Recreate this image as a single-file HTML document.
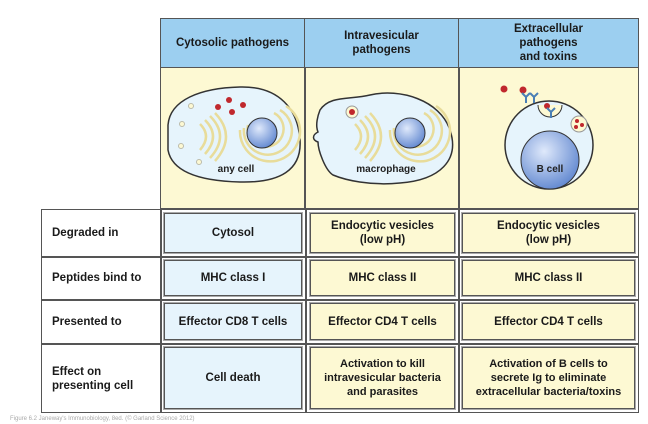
<!DOCTYPE html>
<html><head><meta charset="utf-8"><style>
html,body{margin:0;padding:0;background:#fff;width:648px;height:424px;overflow:hidden;font-family:"Liberation Sans",sans-serif}
.a{position:absolute;box-sizing:border-box}
.t{display:flex;align-items:center;justify-content:center;text-align:center;font-weight:bold;font-size:11.5px;line-height:14px;color:#1a1a1a}
.l{display:flex;align-items:center;font-weight:bold;font-size:11.5px;line-height:14px;color:#1a1a1a;padding-left:10px}
.bx{border:1.5px solid #555;outline:1px solid #aaa}
.b{background:#e6f4fc}.y{background:#fdf9d3}
</style></head><body>
<div class="a" style="left:160px;top:18px;width:479px;height:191px;border:1.5px solid #555;background:#fdf9d3"></div>
<div class="a t" style="left:160px;top:18px;width:145px;height:50px;background:#9ccff0;border:1.5px solid #555">Cytosolic pathogens</div>
<div class="a t" style="left:304px;top:18px;width:155px;height:50px;background:#9ccff0;border:1.5px solid #555">Intravesicular<br>pathogens</div>
<div class="a t" style="left:458px;top:18px;width:181px;height:50px;background:#9ccff0;border:1.5px solid #555">Extracellular<br>pathogens<br>and toxins</div>
<div class="a" style="left:304px;top:67px;width:1.5px;height:142px;background:#555"></div>
<div class="a" style="left:458px;top:67px;width:1.5px;height:142px;background:#555"></div>
<svg class="a" style="left:0;top:0" width="648" height="424">
<defs><radialGradient id="n" cx="0.4" cy="0.35" r="0.7"><stop offset="0" stop-color="#dfe9fb"/><stop offset="1" stop-color="#5f86cf"/></radialGradient></defs>
<path d="M168,125 C170,100 200,88 240,87 C280,86 298,110 300,140 C302,170 280,183 240,182 C200,181 172,172 168,150 Z" fill="#e6f4fc" stroke="#333" stroke-width="1.5"/>
<g fill="none" stroke="#e8dc9a" stroke-width="2.5"><path d="M200,124 q12,12 0,26"/><path d="M205,120 q16,16 0,34"/><path d="M210,116 q20,20 0,42"/><path d="M215,113 q22,23 0,48"/><path d="M248,125 a18,18 0 1,0 26,-12"/><path d="M244,128 a24,24 0 1,0 36,-18"/><path d="M240,130 a30,30 0 1,0 46,-24"/></g>
<circle cx="262" cy="133" r="15" fill="url(#n)" stroke="#333"/>
<g fill="#c0282d"><circle cx="229" cy="100" r="3"/><circle cx="218" cy="107" r="3"/><circle cx="232" cy="112" r="3"/><circle cx="243" cy="105" r="3"/></g>
<g fill="#fdf9d3" stroke="#bba"><circle cx="191" cy="106" r="2.5"/><circle cx="182" cy="124" r="2.5"/><circle cx="181" cy="146" r="2.5"/><circle cx="199" cy="162" r="2.5"/></g>
<text x="236" y="172" font-size="10" font-weight="bold" text-anchor="middle" fill="#222">any cell</text>
<path d="M320,110 C330,95 350,100 370,95 C400,88 440,100 450,130 C460,160 440,180 400,183 C370,186 345,180 333,175 C325,170 318,150 318,142 C312,140 312,135 318,132 C315,125 318,115 320,110 Z" fill="#e6f4fc" stroke="#333" stroke-width="1.5"/>
<g fill="none" stroke="#e8dc9a" stroke-width="2.5"><path d="M355,124 q12,12 0,26"/><path d="M360,120 q16,16 0,34"/><path d="M365,116 q20,20 0,42"/><path d="M370,113 q22,23 0,48"/><path d="M398,125 a18,18 0 1,0 26,-12"/><path d="M394,128 a24,24 0 1,0 36,-18"/><path d="M390,130 a30,30 0 1,0 46,-24"/></g>
<circle cx="410" cy="133" r="15" fill="url(#n)" stroke="#333"/>
<circle cx="352" cy="112" r="6" fill="#fdf9d3" stroke="#999"/><circle cx="352" cy="112" r="3" fill="#c0282d"/>
<text x="386" y="172" font-size="10" font-weight="bold" text-anchor="middle" fill="#222">macrophage</text>
<circle cx="549" cy="145" r="44" fill="#e6f4fc" stroke="#333" stroke-width="1.5"/>
<circle cx="550" cy="160" r="29" fill="url(#n)" stroke="#333"/>
<path d="M538,105 a12,12 0 0,0 24,0" fill="#fdf9d3" stroke="#333"/>
<circle cx="579" cy="124" r="8" fill="#fdf9d3" stroke="#999"/>
<g fill="#c0282d"><circle cx="577" cy="121" r="2"/><circle cx="582" cy="125" r="2"/><circle cx="576" cy="127" r="2"/><circle cx="504" cy="89" r="3.5"/><circle cx="523" cy="90" r="3.5"/><circle cx="547" cy="106" r="3"/></g>
<g stroke="#4a7fb5" stroke-width="2" fill="none"><path d="M526,97 l0,6 M522,93 l4,4 l4,-4 M534,97 l0,6 M530,93 l4,4 l4,-4 M551,112 l0,6 M547,108 l4,4 l4,-4"/></g>
<text x="550" y="172" font-size="10" font-weight="bold" text-anchor="middle" fill="#222">B cell</text>
</svg>
<div class="a" style="left:41px;top:209px;width:598px;height:204px;border:1.5px solid #555"></div>
<div class="a" style="left:160px;top:209px;width:1.5px;height:204px;background:#555"></div>
<div class="a" style="left:305px;top:209px;width:1.5px;height:204px;background:#555"></div>
<div class="a" style="left:458px;top:209px;width:1.5px;height:204px;background:#555"></div>
<div class="a" style="left:41px;top:256px;width:598px;height:1.5px;background:#555"></div>
<div class="a" style="left:41px;top:299px;width:598px;height:1.5px;background:#555"></div>
<div class="a" style="left:41px;top:343px;width:598px;height:1.5px;background:#555"></div>
<div class="a l" style="left:42px;top:210px;width:118px;height:46px">Degraded in</div>
<div class="a l" style="left:42px;top:257px;width:118px;height:42px">Peptides bind to</div>
<div class="a l" style="left:42px;top:300px;width:118px;height:43px">Presented to</div>
<div class="a l" style="left:42px;top:344px;width:118px;height:69px">Effect on<br>presenting cell</div>
<div class="a t bx b" style="left:164px;top:213px;width:138px;height:40px">Cytosol</div>
<div class="a t bx y" style="left:310px;top:213px;width:145px;height:40px">Endocytic vesicles<br>(low pH)</div>
<div class="a t bx y" style="left:462px;top:213px;width:173px;height:40px">Endocytic vesicles<br>(low pH)</div>
<div class="a t bx b" style="left:164px;top:260px;width:138px;height:36px">MHC class I</div>
<div class="a t bx y" style="left:310px;top:260px;width:145px;height:36px">MHC class II</div>
<div class="a t bx y" style="left:462px;top:260px;width:173px;height:36px">MHC class II</div>
<div class="a t bx b" style="left:164px;top:303px;width:138px;height:37px">Effector CD8 T cells</div>
<div class="a t bx y" style="left:310px;top:303px;width:145px;height:37px">Effector CD4 T cells</div>
<div class="a t bx y" style="left:462px;top:303px;width:173px;height:37px">Effector CD4 T cells</div>
<div class="a t bx b" style="left:164px;top:347px;width:138px;height:62px">Cell death</div>
<div class="a t bx y" style="left:310px;top:347px;width:145px;height:62px;font-size:11px">Activation to kill<br>intravesicular bacteria<br>and parasites</div>
<div class="a t bx y" style="left:462px;top:347px;width:173px;height:62px;font-size:11px">Activation of B cells to<br>secrete Ig to eliminate<br>extracellular bacteria/toxins</div>
<div class="a" style="left:10px;top:416px;font-size:6px;color:#aaa">Figure 6.2 Janeway's Immunobiology, 8ed. (© Garland Science 2012)</div>
</body></html>
